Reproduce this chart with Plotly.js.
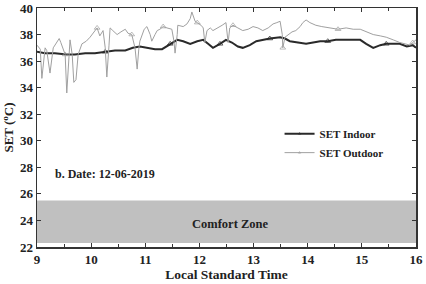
<!DOCTYPE html>
<html><head><meta charset="utf-8">
<script src="https://cdn.plot.ly/plotly-3.0.1.min.js"></script>
<style>html,body{margin:0;padding:0;background:#fff}#c{width:426px;height:284px}</style>
</head><body><div id="c"></div>
<script>
const indoorTime = [9.00,9.15,9.33,9.55,9.70,9.89,10.07,10.26,10.44,10.63,10.77,10.90,11.05,11.18,11.31,11.46,11.59,11.70,11.83,11.96,12.07,12.16,12.25,12.38,12.49,12.60,12.71,12.80,12.93,13.05,13.16,13.30,13.49,13.58,13.67,13.82,13.97,14.10,14.23,14.37,14.52,14.69,14.87,14.97,15.08,15.21,15.34,15.45,15.58,15.70,15.83,15.94,16.00];
const indoorSET = [36.7,36.6,36.6,36.5,36.5,36.6,36.6,36.7,36.8,36.8,37.0,37.1,37.0,36.9,36.9,37.3,37.6,37.5,37.3,37.5,37.6,37.3,37.0,37.3,37.6,37.4,37.1,37.0,37.2,37.5,37.6,37.7,37.8,37.7,37.5,37.4,37.3,37.4,37.5,37.5,37.6,37.6,37.6,37.6,37.3,37.0,37.2,37.3,37.3,37.3,37.1,37.2,37.0];
const outdoorTime = [9.00,9.06,9.09,9.15,9.18,9.24,9.30,9.35,9.41,9.44,9.48,9.52,9.55,9.59,9.61,9.65,9.68,9.72,9.76,9.83,9.91,9.98,10.05,10.11,10.16,10.22,10.26,10.29,10.33,10.35,10.40,10.48,10.55,10.63,10.68,10.75,10.81,10.85,10.88,10.90,10.98,11.03,11.09,11.12,11.18,11.22,11.27,11.33,11.40,11.49,11.53,11.55,11.59,11.60,11.70,11.77,11.83,11.86,11.92,11.96,12.03,12.07,12.10,12.14,12.20,12.25,12.34,12.42,12.49,12.53,12.56,12.62,12.71,12.80,12.90,12.99,13.08,13.17,13.27,13.36,13.43,13.49,13.53,13.54,13.58,13.64,13.71,13.78,13.86,13.91,13.97,14.04,14.15,14.26,14.41,14.56,14.71,14.84,14.97,15.08,15.21,15.34,15.45,15.58,15.70,15.80,15.89,15.94,16.00];
const outdoorSET = [37.2,36.9,34.7,37.0,36.8,35.1,37.0,37.3,37.7,37.4,37.0,36.5,33.6,36.8,37.6,36.5,34.4,34.6,36.5,37.3,37.5,37.8,38.2,38.5,37.9,38.3,37.0,34.8,37.2,38.5,38.3,38.0,38.2,38.4,38.1,38.0,37.0,35.4,36.9,37.5,38.4,38.6,38.0,37.5,38.0,38.3,38.4,38.6,38.5,38.4,37.5,36.6,38.0,38.7,38.6,38.8,39.2,39.7,39.0,38.9,38.7,38.5,37.4,38.3,38.5,38.3,38.5,38.7,38.9,37.4,38.5,38.7,38.5,38.3,38.4,38.6,38.5,38.3,38.5,38.8,38.9,39.0,38.0,37.0,37.8,38.0,38.2,38.3,38.6,38.9,39.1,38.9,38.7,38.6,38.5,38.4,38.5,38.4,38.4,38.2,38.0,37.9,37.8,37.6,37.4,37.3,37.2,37.4,37.6];
const comfortZone = [22.3, 25.5];
const xTickVals = [9,10,11,12,13,14,15,16];
const yTickVals = [22,24,26,28,30,32,34,36,38,40];

function sparse(n, every){ const s=[]; for(let i=0;i<n;i++) s.push(i%every===every-1?5:0); return s; }

const F = 'Liberation Serif, Times New Roman, serif';
const traces = [
  {x: indoorTime, y: indoorSET, name: 'SET Indoor', mode: 'lines+markers',
   line: {color: '#2a2a2a', width: 2},
   marker: {symbol: 'triangle-up-open', color: '#2a2a2a', size: sparse(indoorTime.length, 8), line:{width:1}}},
  {x: outdoorTime, y: outdoorSET, name: 'SET Outdoor', mode: 'lines+markers',
   line: {color: '#a0a0a0', width: 1},
   marker: {symbol: 'triangle-up-open', color: '#a0a0a0', size: sparse(outdoorTime.length, 12), line:{width:1}}}
];
const axisCommon = {showline: true, linecolor: '#333', linewidth: 1.5, mirror: 'ticks', ticks: 'inside', ticklen: 4, tickcolor: '#333', showgrid: false, zeroline: false,
  tickfont: {family: F, size: 13, color: '#222', weight: 'bold'}};
const layout = {
  width: 426, height: 284, margin: {l: 37, r: 10, t: 8, b: 37},
  paper_bgcolor: '#fff', plot_bgcolor: '#fff', font: {family: F, color: '#222'},
  xaxis: Object.assign({}, axisCommon, {range: [9, 16], tickvals: xTickVals,
    minor: {dtick: 0.5, ticks: 'inside', ticklen: 3, tickcolor: '#333'},
    title: {text: 'Local Standard Time', font: {family: F, size: 13.5, color: '#222', weight: 'bold'}, standoff: 1}}),
  yaxis: Object.assign({}, axisCommon, {range: [22, 40], tickvals: yTickVals,
    title: {text: 'SET (<sup>o</sup>C)', font: {family: F, size: 13, color: '#222', weight: 'bold'}, standoff: 3}}),
  shapes: [{type: 'rect', xref: 'x', yref: 'y', x0: 9, x1: 16, y0: comfortZone[0], y1: comfortZone[1], fillcolor: '#c0c0c0', line: {width: 0}, layer: 'below'}],
  annotations: [
    {x: 9.3, y: 27.5, xref: 'x', yref: 'y', text: 'b. Date: 12-06-2019', showarrow: false, xanchor: 'left', font: {family: F, size: 12, color: '#222', weight: 'bold'}},
    {x: 12.57, y: 23.75, xref: 'x', yref: 'y', text: 'Comfort Zone', showarrow: false, font: {family: F, size: 12.5, color: '#222', weight: 'bold'}}
  ],
  showlegend: true,
  legend: {x: 0.64, y: 0.535, xanchor: 'left', yanchor: 'top', bgcolor: 'rgba(0,0,0,0)', borderwidth: 0,
    font: {family: F, size: 11, color: '#222', weight: 'bold'}, tracegroupgap: 0, itemwidth: 30}
};
Plotly.newPlot('c', traces, layout, {staticPlot: true, displayModeBar: false});
</script></body></html>
